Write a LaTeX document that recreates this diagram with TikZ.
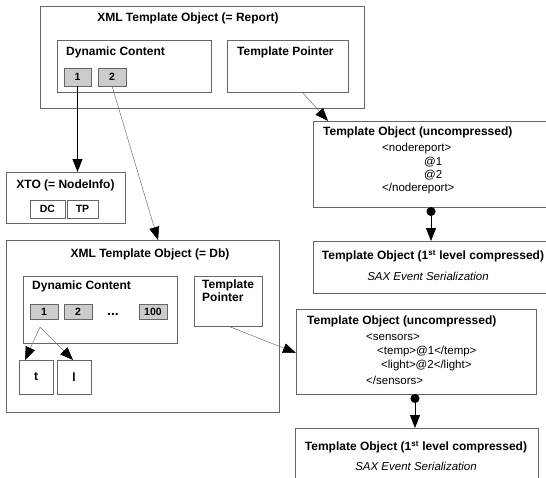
\documentclass[tikz,border=0pt]{standalone}
\usepackage{fontspec}
\setmainfont{Liberation Sans}
\usetikzlibrary{arrows.meta}
\begin{document}
\begin{tikzpicture}[x=1pt,y=-1pt,
  box/.style={draw=black!60,line width=0.8pt,anchor=north west,inner sep=0pt,outer sep=0pt},
  cell/.style={box,fill=black!20,font=\fontsize{10.5}{12}\selectfont\bfseries},
  wcell/.style={box,font=\fontsize{10.5}{12}\selectfont\bfseries},
  ttl/.style={font=\fontsize{12}{14}\selectfont\bfseries,inner sep=0pt},
  txt/.style={font=\fontsize{11.5}{13}\selectfont,inner sep=0pt,anchor=west},
  thin/.style={draw=black!55,line width=0.5pt},
  tip/.style={-{Triangle[width=10pt,length=13pt,color=black]}},
  dotarr/.style={black,line width=0.8pt,{Circle[length=9pt]}-{Triangle[width=10pt,length=13pt]}}]
\clip (0,0) rectangle (546,477);
\fill[white] (0,0) rectangle (546,477);
% Report XTO
\node[box,minimum width=324pt,minimum height=102pt] (rep) at (40,6) {};
\node[ttl] (repT) at (188,18) {XML Template Object (= Report)};
\node[box,minimum width=154pt,minimum height=52pt] (dc) at (57,40) {};
\node[ttl,anchor=west] (dcT) at (66,52) {Dynamic Content};
\node[box,minimum width=121pt,minimum height=52pt] (tp) at (227,40) {};
\node[ttl,anchor=west] (tpT) at (237,52) {Template Pointer};
\node[cell,minimum width=27pt,minimum height=18pt] (b1) at (64,68) {1};
\node[cell,minimum width=28pt,minimum height=18pt] (b2) at (98,68) {2};
% XTO NodeInfo
\node[box,minimum width=119pt,minimum height=51pt] (xto) at (6,172) {};
\node[ttl] (xtoT) at (65.5,185) {XTO (= NodeInfo)};
\node[wcell,minimum width=35pt,minimum height=18pt] (xdc) at (30,200) {DC};
\node[wcell,minimum width=31pt,minimum height=18pt] (xtp) at (67,200) {TP};
% Db XTO
\node[box,minimum width=273pt,minimum height=172pt] (db) at (6,240) {};
\node[ttl] (dbT) at (150,254) {XML Template Object (= Db)};
\node[box,minimum width=154pt,minimum height=67pt] (dc2) at (23,276) {};
\node[ttl,anchor=west] (dc2T) at (32,286) {Dynamic Content};
\node[box,minimum width=68pt,minimum height=50pt] (tp2) at (194,276) {};
\node[ttl,anchor=north west,align=left] (tp2T) at (202,280) {Template\\[-1pt]Pointer};
\node[cell,minimum width=28pt,minimum height=15pt] (c1) at (30,304) {1};
\node[cell,minimum width=28pt,minimum height=15pt] (c2) at (64,304) {2};
\node[font=\fontsize{14}{16}\selectfont\bfseries,inner sep=0pt,anchor=base] (dots) at (113,315) {...};
\node[cell,minimum width=28pt,minimum height=15pt] (c100) at (139,304) {100};
\node[box,minimum width=34pt,minimum height=34pt,font=\fontsize{12}{14}\selectfont\bfseries] (t) at (19,360) {t};
\node[box,minimum width=34pt,minimum height=34pt,font=\fontsize{12}{14}\selectfont\bfseries] (l) at (57,360) {l};
% Template objects
\node[box,minimum width=250pt,minimum height=86pt] (to1) at (313,121) {};
\node[ttl,anchor=west] (to1T) at (323,132) {Template Object (uncompressed)};
\node[txt] (to1a) at (382,149) {<nodereport>};
\node[txt] (to1b) at (424,162) {@1};
\node[txt] (to1c) at (424,175) {@2};
\node[txt] (to1d) at (382,189) {</nodereport>};
\node[box,minimum width=250pt,minimum height=52pt] (lc1) at (313,241) {};
\node[ttl] (lc1T) at (433,256) {Template Object (1\textsuperscript{st} level compressed)};
\node[txt,anchor=center,font=\fontsize{11.5}{13}\selectfont\itshape] (lc1S) at (428,276) {SAX Event Serialization};
\node[box,minimum width=240pt,minimum height=85pt] (to2) at (296,309) {};
\node[ttl,anchor=west] (to2T) at (307,321) {Template Object (uncompressed)};
\node[txt] (to2a) at (366,337) {<sensors>};
\node[txt] (to2b) at (377,352) {<temp>@1</temp>};
\node[txt] (to2c) at (381,366) {<light>@2</light>};
\node[txt] (to2d) at (366,380) {</sensors>};
\node[box,minimum width=243pt,minimum height=70pt] (lc2) at (295,428) {};
\node[ttl] (lc2T) at (416,447) {Template Object (1\textsuperscript{st} level compressed)};
\node[txt,anchor=center,font=\fontsize{11.5}{13}\selectfont\itshape] (lc2S) at (416,466) {SAX Event Serialization};
% connector points
\coordinate (b2s) at (112,86);
\coordinate (dbin) at (158,240);
\coordinate (tps) at (302,92);
\coordinate (to1in) at (328,121);
\coordinate (tp2s) at (228,326);
\coordinate (to2in) at (296,353);
\coordinate (c1s) at (40,327);
\coordinate (tin) at (25,360);
\coordinate (lin) at (73,360);
\coordinate (to1s) at (431,207);
\coordinate (lc1in) at (431,241);
\coordinate (to2s) at (415,394);
\coordinate (lc2in) at (415,428);
% connectors
\draw[black,line width=0.8pt,tip] (b1.south) -- (xto.north -| b1.south);
\draw[thin,tip] (b2s) -- (dbin);
\draw[thin,tip] (tps) -- (to1in);
\draw[thin,tip] (tp2s) -- (to2in);
\draw[thin,tip] (c1s) -- (tin);
\draw[thin,tip] (c1s) -- (lin);
\draw[dotarr] (to1s) -- (lc1in);
\draw[dotarr] (to2s) -- (lc2in);
\end{tikzpicture}
\end{document}
